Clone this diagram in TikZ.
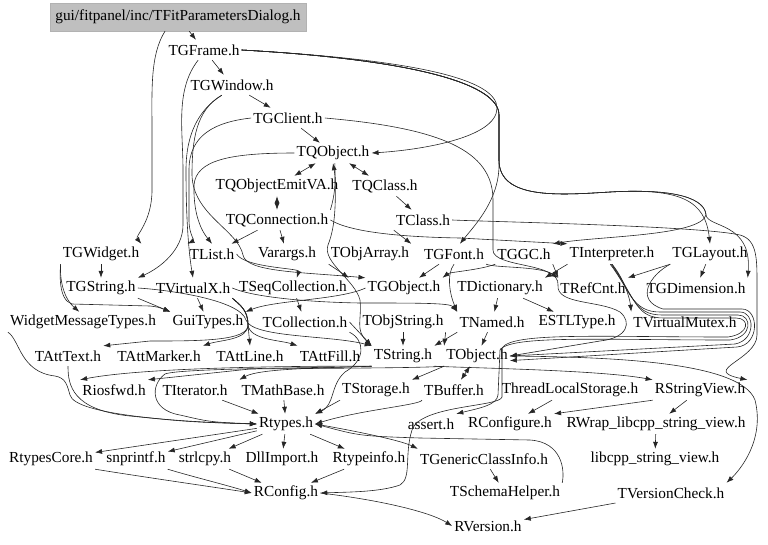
\documentclass[tikz,border=0pt]{standalone}
\usepackage{fontspec}
\setmainfont{Liberation Serif}
\usetikzlibrary{arrows.meta,calc}
\begin{document}
\begin{tikzpicture}[x=1pt,y=-1pt,
  n/.style={inner xsep=2pt,inner ysep=0pt,minimum height=20pt,font=\fontsize{15.3}{18}\selectfont},
  e/.style={-{Latex[length=7pt,width=5pt]},line width=0.6pt,black!85},
  e2/.style={{Latex[length=7pt,width=5pt]}-{Latex[length=7pt,width=5pt]},line width=0.6pt,black!85}]
\useasboundingbox (0,0) rectangle (768,544);
\node[n,fill=gray!50,draw=gray!60,minimum width=256pt,minimum height=28pt] (dlg) at (178,17) {gui/fitpanel/inc/TFitParametersDialog.h};
\node[n] (frame) at (204,50) {TGFrame.h};
\node[n] (window) at (232,85) {TGWindow.h};
\node[n] (client) at (288,118) {TGClient.h};
\node[n] (qobj) at (333,153) {TQObject.h};
\node[n] (emit) at (277,186) {TQObjectEmitVA.h};
\node[n] (qclass) at (385,186) {TQClass.h};
\node[n] (qconn) at (277,220) {TQConnection.h};
\node[n] (tclass) at (423,220) {TClass.h};
\node[n] (gwidget) at (101,254) {TGWidget.h};
\node[n] (tlist) at (212,254) {TList.h};
\node[n] (varargs) at (287,254) {Varargs.h};
\node[n] (objarr) at (370,254) {TObjArray.h};
\node[n] (gfont) at (454,254) {TGFont.h};
\node[n] (ggc) at (524,254) {TGGC.h};
\node[n] (interp) at (612,254) {TInterpreter.h};
\node[n] (glayout) at (710,254) {TGLayout.h};
\node[n] (gstring) at (101,288) {TGString.h};
\node[n] (virtx) at (193,288) {TVirtualX.h};
\node[n] (seqcol) at (293,288) {TSeqCollection.h};
\node[n] (gobj) at (404,288) {TGObject.h};
\node[n] (dict) at (500,288) {TDictionary.h};
\node[n] (refcnt) at (593,288) {TRefCnt.h};
\node[n] (gdim) at (696,288) {TGDimension.h};
\node[n] (wmt) at (83,322) {WidgetMessageTypes.h};
\node[n] (guitypes) at (208,322) {GuiTypes.h};
\node[n] (coll) at (305,322) {TCollection.h};
\node[n] (objstr) at (403,322) {TObjString.h};
\node[n] (named) at (492,322) {TNamed.h};
\node[n] (estl) at (577,322) {ESTLType.h};
\node[n] (vmutex) at (685,322) {TVirtualMutex.h};
\node[n] (atttext) at (68,356) {TAttText.h};
\node[n] (attmarker) at (159,356) {TAttMarker.h};
\node[n] (attline) at (250,356) {TAttLine.h};
\node[n] (attfill) at (330,356) {TAttFill.h};
\node[n] (tstring) at (403,356) {TString.h};
\node[n] (tobject) at (477,356) {TObject.h};
\node[n] (riosfwd) at (114,390) {Riosfwd.h};
\node[n] (titer) at (195,390) {TIterator.h};
\node[n] (mathbase) at (283,390) {TMathBase.h};
\node[n] (storage) at (376,390) {TStorage.h};
\node[n] (buffer) at (454,390) {TBuffer.h};
\node[n] (tls) at (570,390) {ThreadLocalStorage.h};
\node[n] (rsv) at (700,390) {RStringView.h};
\node[n] (rtypes) at (286,424) {Rtypes.h};
\node[n] (assert) at (431,424) {assert.h};
\node[n] (rconfigure) at (510,424) {RConfigure.h};
\node[n] (rwrap) at (656,424) {RWrap\_libcpp\_string\_view.h};
\node[n] (rtcore) at (51,459) {RtypesCore.h};
\node[n] (snprintf) at (136,459) {snprintf.h};
\node[n] (strlcpy) at (205,459) {strlcpy.h};
\node[n] (dllimport) at (282,459) {DllImport.h};
\node[n] (rtypeinfo) at (369,459) {Rtypeinfo.h};
\node[n] (genclass) at (484,459) {TGenericClassInfo.h};
\node[n] (libcpp) at (655,459) {libcpp\_string\_view.h};
\node[n] (rconfig) at (286,493) {RConfig.h};
\node[n] (schema) at (505,493) {TSchemaHelper.h};
\node[n] (vcheck) at (671,493) {TVersionCheck.h};
\node[n] (rversion) at (488,526) {RVersion.h};

% top
\draw[e] (dlg) -- (frame);
\draw[e] ($(dlg.south)+(-13,0)$) .. controls (150,55) and (152,90) .. (152,130) -- (152,190) .. controls (152,222) and (135,236) .. (gwidget.north east);
\draw[e] (frame) -- (window);
\draw[e] (window) -- (client);
\draw[e] (client) -- (qobj);
\draw[e] (frame.east) .. controls (420,60) and (497,80) .. (497,108) .. controls (497,138) and (420,150) .. (qobj.east);
\draw[e] (frame.east) .. controls (420,60) and (499,85) .. (499,115) -- (499,165) .. controls (499,200) and (475,225) .. (gfont.60);
\draw[e] (frame.east) .. controls (420,60) and (499,85) .. (499,115) -- (499,160) .. controls (499,200) and (560,195) .. (610,192) .. controls (680,188) and (705,200) .. (glayout.north);
\draw[e] (frame.east) .. controls (420,60) and (499,85) .. (499,115) -- (499,160) .. controls (499,200) and (560,195) .. (610,192) .. controls (680,188) and (705,200) .. (706,215) .. controls (708,228) and (752,222) .. (gdim.north east);
\draw[e] (frame.east) .. controls (420,60) and (499,85) .. (499,115) -- (499,160) .. controls (499,200) and (560,195) .. (610,192) .. controls (680,188) and (705,200) .. (706,215) .. controls (700,236) and (600,236) .. (ggc.north east);
% left bundle
\draw[e] (frame.240) .. controls (175,90) and (183,130) .. (183,170) -- (183,225) .. controls (183,250) and (160,268) .. (gstring.north east);
\draw[e] (window.225) .. controls (198,110) and (186,135) .. (186,170) .. controls (186,230) and (190,260) .. (virtx.north);
\draw[e] (client.west) .. controls (215,122) and (189,135) .. (189,170) -- (189,220) .. controls (189,235) and (195,240) .. (tlist.north west);
\draw[e] (window.225) .. controls (196,110) and (192,140) .. (192,175) .. controls (193,215) and (238,230) .. (243,255) .. controls (246,272) and (300,272) .. (gobj.north west);
\draw[e] (qobj.west) .. controls (230,153) and (196,160) .. (194,185) .. controls (193,220) and (205,235) .. (tlist.north);
% TQ cluster
\draw[e2] (qobj) -- (emit);
\draw[e2] (qobj) -- (qclass);
\draw[e2] (emit) -- (qconn);
\draw[e] (qconn.north east) .. controls (335,195) and (336,180) .. (qobj.south);
\draw[e] (qclass) -- (tclass);
\draw[e] (qconn) -- (tlist);
\draw[e] (qconn) -- (varargs);
\draw[e] (qconn.east) .. controls (350,232) and (400,237) .. (460,238) -- (interp.north west);
\draw[e] (tclass.south west) -- (objarr.north east);
\draw[e] (qobj.-80) .. controls (336,200) and (336,225) .. (328,245) .. controls (322,262) and (355,280) .. (360,300) .. controls (362,320) and (355,330) .. (tstring.north west);
% row 254 -> 288
\draw[e] (gwidget) -- (gstring);
\draw[e] (gwidget.south west) .. controls (60,270) and (60,295) .. (wmt.110);
\draw[e] (gwidget.south west) .. controls (60,272) and (58,300) .. (72,304) -- (150,306) .. controls (158,307) .. (guitypes.north west);
\draw[e] (gstring.south east) -- (guitypes.north west);
\draw[e] (tlist.east) .. controls (245,268) and (300,268) .. (seqcol.70);
\draw[e] (objarr.south west) -- (seqcol.north east);
\draw[e] (gfont) -- (gobj);
\draw[e] (gfont.south) .. controls (446,275) and (450,295) .. (named.north west);
\draw[e] (gfont.south east) .. controls (495,268) and (540,266) .. (refcnt.north west);
\draw[e] (ggc.south west) .. controls (480,270) and (450,272) .. (gobj.north east);
\draw[e] (ggc.south east) -- (refcnt.north west);
\draw[e] (interp.south west) -- (dict.north east);
\draw[e] (interp.south) .. controls (625,280) and (630,300) .. (vmutex.north west);
\draw[e] (glayout.south west) -- (refcnt.north east);
\draw[e] (glayout) -- (gdim);
\draw[e] (client.east) .. controls (440,128) and (493,150) .. (493,200) -- (493,250) .. controls (493,268) and (560,262) .. (558,285) .. controls (556,305) and (600,300) .. (620,312) .. controls (632,322) and (628,338) .. (600,341) -- (tobject.east);
% loops on the right
\draw[e] (interp.-100) .. controls (630,290) and (632,312) .. (660,312) -- (740,312) .. controls (755,312) and (756,340) .. (735,344) -- (tobject.east);
\draw[e] (glayout.south west) .. controls (650,275) and (634,300) .. (663,309) -- (742,309) .. controls (759,309) and (760,345) .. (737,347) -- (tobject.-8);
\draw[e] (interp.-95) .. controls (633,295) and (634,315) .. (662,315) -- (738,315) .. controls (752,315) and (753,337) .. (730,340) .. controls (600,340) and (510,335) .. (500,350) -- (498,395) .. controls (497,405) and (480,408) .. (assert.north east);
\draw[e] (interp.-90) .. controls (636,300) and (636,318) .. (664,318) -- (736,318) .. controls (750,318) and (750,334) .. (728,337) .. controls (600,337) and (512,332) .. (502,348) -- (502,397) .. controls (500,407) and (420,405) .. (412,430) .. controls (404,455) and (412,478) .. (400,485) .. controls (380,492) and (350,492) .. (rconfig.east);
\draw[e] (tclass.east) .. controls (500,222) and (700,226) .. (740,235) .. controls (758,240) and (757,260) .. (757,290) -- (757,335) .. controls (757,360) and (700,370) .. (rsv.north east);
% row 288 -> 322
\draw[e] (virtx) -- (guitypes);
\draw[e] (virtx.south east) .. controls (240,305) and (248,310) .. (248,325) .. controls (248,341) and (200,341) .. (150,341) -- (atttext.north east);
\draw[e] (virtx.south east) .. controls (240,305) and (248,310) .. (248,325) .. controls (248,340) and (220,340) .. (attmarker.north east);
\draw[e] (virtx.south east) .. controls (240,305) and (248,310) .. (248,325) -- (attline.north);
\draw[e] (virtx.south east) .. controls (240,305) and (248,310) .. (248,325) .. controls (250,340) and (280,340) .. (attfill.north west);
\draw[e] (virtx.east) .. controls (250,296) and (300,302) .. (360,303) .. controls (420,303) and (450,303) .. (named.north west);
\draw[e] (seqcol) -- (coll);
\draw[e] (gobj.west) .. controls (340,300) and (275,300) .. (guitypes.north east);
\draw[e] (dict) -- (named);
\draw[e] (dict) -- (estl);
\draw[e] (gstring.east) .. controls (170,290) and (240,300) .. (246,320) .. controls (252,338) and (330,335) .. (tstring.north west);
% row 322 -> 356
\draw[e] (objstr) -- (tstring);
\draw[e] (objstr.south east) -- (tobject.north west);
\draw[e] (named) -- (tobject);
\draw[e] (named.south west) -- (tstring.north east);
\draw[e] (coll.east) -- (tstring.north west);
\draw[e] (coll.south east) .. controls (365,340) and (366,360) .. (345,372) .. controls (330,385) and (335,405) .. (rtypes.north east);
\draw[e] (wmt.south west) .. controls (20,340) and (20,372) .. (55,376) .. controls (66,378) and (67,385) .. (70,395) .. controls (75,415) and (180,422) .. (rtypes.west);
\draw[e] (atttext.south) .. controls (68,385) and (72,410) .. (130,416) .. controls (190,422) .. (rtypes.west);
% row 356 -> 390
\draw[e] (tobject.east) .. controls (600,357) and (740,360) .. (755,400) .. controls (765,440) and (740,470) .. (vcheck.north east);
\draw[e2] (tobject) -- (buffer);
\draw[e] (tobject.south west) -- (storage.north east);
\draw[e] (tobject.south west) .. controls (420,368) and (350,368) .. (250,369) -- (riosfwd.north east);
\draw[e] (tstring.south west) .. controls (330,366) and (150,366) .. (riosfwd.north west);
\draw[e] (tstring.south west) .. controls (330,368) and (260,368) .. (mathbase.north west);
\draw[e] (tstring.south west) .. controls (330,368) and (180,368) .. (165,374) .. controls (150,385) and (150,410) .. (180,415) .. controls (210,422) .. (rtypes.west);
\draw[e] (tstring.south east) .. controls (470,368) and (600,370) .. (rsv.north west);
\draw[e] (titer) -- (rtypes);
\draw[e] (mathbase) -- (rtypes);
\draw[e] (storage.south west) -- (rtypes.north east);
\draw[e] (buffer.south west) .. controls (420,405) and (360,410) .. (rtypes.east);
\draw[e] (tls) -- (rconfigure);
\draw[e] (rsv.south west) -- (rconfigure.north east);
\draw[e] (rsv) -- (rwrap);
\draw[e] (rwrap) -- (libcpp);
% bottom
\draw[e] (rtypes) -- (rtcore);
\draw[e] (rtypes) -- (snprintf);
\draw[e] (rtypes) -- (strlcpy);
\draw[e] (rtypes) -- (dllimport);
\draw[e] (rtypes) -- (rtypeinfo);
\draw[e] (rtypes.east) .. controls (350,430) and (400,440) .. (genclass.north west);
\draw[e] (schema.north east) .. controls (565,470) and (562,442) .. (530,440) -- (420,438) .. controls (360,436) .. (rtypes.east);
\draw[e] (genclass) -- (schema);
\draw[e] (rtcore.south east) .. controls (150,478) and (220,488) .. (rconfig.west);
\draw[e] (snprintf.south east) .. controls (190,476) and (230,486) .. (rconfig.west);
\draw[e] (strlcpy) -- (rconfig);
\draw[e] (rtypeinfo) -- (rconfig);
\draw[e] (rconfig.east) .. controls (380,500) and (430,512) .. (rversion.west);
\draw[e] (vcheck) -- (rversion);
\end{tikzpicture}
\end{document}
